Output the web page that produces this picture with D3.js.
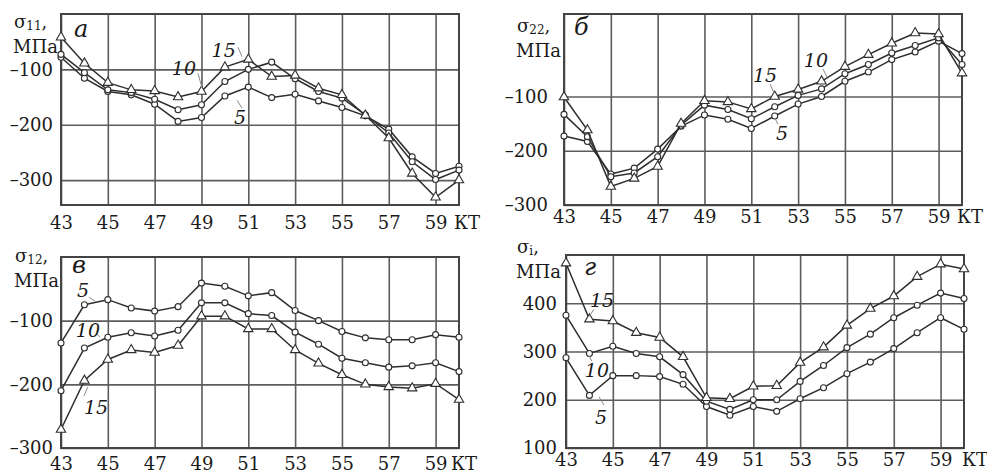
<!DOCTYPE html>
<html>
<head>
<meta charset="utf-8">
<script src="https://cdn.jsdelivr.net/npm/d3@7/dist/d3.min.js"></script>
<style>
  body { margin: 0; background: #fff; }
  svg { display: block; }
  text { font-family: "DejaVu Serif", serif; fill: #1a1a1a; }
</style>
</head>
<body>
<svg id="chart" width="987" height="474"></svg>
<script>
// Control points (КТ) along the part
const kt = [43, 44, 45, 46, 47, 48, 49, 50, 51, 52, 53, 54, 55, 56, 57, 58, 59, 60];
const ktTicks = [43, 45, 47, 49, 51, 53, 55, 57, 59];

// σ11, МПа
const s11_5  = [-78, -116, -140, -146, -163, -194, -187, -148, -132, -151, -145, -157, -169, -184, -208, -258, -288, -275];
const s11_10 = [-73, -106, -137, -142, -154, -173, -164, -122, -100, -87, -117, -140, -152, -182, -215, -267, -299, -282];
const s11_15 = [-42, -89, -124, -137, -139, -150, -140, -96, -82, -113, -111, -134, -146, -183, -224, -288, -331, -300];

// σ22, МПа
const s22_5  = [-173, -183, -243, -232, -197, -155, -134, -142, -159, -136, -114, -100, -72, -55, -32, -18, 2, -21];
const s22_10 = [-133, -174, -248, -241, -211, -153, -116, -124, -141, -119, -98, -86, -58, -41, -20, -6, 8, -41];
const s22_15 = [-101, -162, -266, -251, -229, -150, -108, -110, -123, -100, -87, -72, -45, -23, -2, 17, 15, -57];

// σ12, МПа
const s12_5  = [-135, -75, -67, -80, -85, -78, -41, -46, -61, -56, -84, -100, -117, -127, -130, -130, -122, -126];
const s12_10 = [-210, -143, -126, -119, -124, -115, -72, -72, -89, -92, -118, -137, -159, -166, -173, -171, -166, -180];
const s12_15 = [-271, -194, -161, -146, -150, -139, -93, -93, -113, -113, -146, -167, -185, -200, -204, -206, -199, -224];

// σi, МПа
const si_5  = [287, 209, 250, 250, 248, 232, 186, 168, 186, 176, 202, 225, 254, 278, 306, 339, 370, 346];
const si_10 = [375, 296, 311, 296, 289, 252, 197, 180, 200, 200, 238, 271, 308, 336, 370, 396, 421, 410];
const si_15 = [483, 367, 363, 339, 329, 289, 204, 202, 228, 229, 277, 309, 354, 389, 415, 455, 481, 471];

const seriesNames = ["5", "10", "15"];

// Panel layout and annotation placement (annotations in data units)
const panels = [
  {
    letter: "а", sub: "11", values: [s11_5, s11_10, s11_15],
    box: { left: 61, right: 459, top: 14, bottom: 205 }, domain: [-345, 0],
    yTicks: [-100, -200, -300], yPad: 8, xPad: 11,
    title: { x: 14, y: 28 }, letterPos: { x: 74, y: 37 }, ktX: 467,
    labels: [
      { t: "15", k: 49.95, v: -65, lead: [[50.56, -60], [50.73, -77]] },
      { t: "10", k: 48.25, v: -97, lead: [[48.85, -107], [49.02, -133]] },
      { t: "5",  k: 50.65, v: -186, lead: [[50.73, -170], [50.52, -156]] }
    ]
  },
  {
    letter: "б", sub: "22", values: [s22_5, s22_10, s22_15],
    box: { left: 564, right: 962, top: 14, bottom: 205 }, domain: [-300, 52],
    yTicks: [-100, -200, -300], yPad: 16, xPad: 5,
    title: { x: 517, y: 32 }, letterPos: { x: 574, y: 35 }, ktX: 970,
    labels: [
      { t: "15", k: 51.59, v: -60, lead: [[51.80, -77], [51.97, -94]] },
      { t: "10", k: 53.76, v: -33, lead: [[54.06, -49], [54.23, -64]] },
      { t: "5",  k: 52.31, v: -167, lead: [[52.14, -151], [52.01, -140]] }
    ]
  },
  {
    letter: "в", sub: "12", values: [s12_5, s12_10, s12_15],
    box: { left: 61, right: 459, top: 257, bottom: 448 }, domain: [-300, 0],
    yTicks: [-100, -200, -300], yPad: 8, xPad: 9,
    title: { x: 15, y: 262 }, letterPos: { x: 72, y: 273 }, ktX: 464,
    labels: [
      { t: "5",  k: 43.94, v: -52, lead: [[44.2, -63], [44.5, -71]] },
      { t: "10", k: 44.15, v: -115, lead: [[44.5, -120], [44.67, -126]] },
      { t: "15", k: 44.5, v: -236, lead: [[43.98, -218], [44.15, -204]] }
    ]
  },
  {
    letter: "г", sub: "i", values: [si_5, si_10, si_15],
    box: { left: 566, right: 964, top: 255, bottom: 448 }, domain: [100, 500],
    yTicks: [100, 200, 300, 400], yPad: 9, xPad: 5,
    title: { x: 517, y: 253 }, letterPos: { x: 584, y: 275 }, ktX: 975,
    labels: [
      { t: "15", k: 44.54, v: 407, lead: [[44.2, 388], [43.98, 372]] },
      { t: "10", k: 44.32, v: 262, lead: [[44.1, 280], [44.0, 290]] },
      { t: "5",  k: 44.5, v: 164, lead: [[44.62, 189], [44.41, 206]] }
    ]
  }
];

const svg = d3.select("#chart");
const fmt = d => (d < 0 ? "\u2013" + Math.abs(d) : String(d));
const ink = "#2e2e2e";
const grid = "#5c5c5c";

panels.forEach(p => {
  const b = p.box;
  const x = d3.scaleLinear().domain([43, 60]).range([b.left, b.right]);
  const y = d3.scaleLinear().domain(p.domain).range([b.bottom, b.top]);
  const g = svg.append("g");

  // vertical grid + КТ tick labels
  const xa = g.append("g")
    .attr("transform", `translate(0,${b.bottom})`)
    .call(d3.axisBottom(x).tickValues(ktTicks).tickSize(-(b.bottom - b.top))
      .tickPadding(p.xPad).tickFormat(d3.format("d")));
  xa.select(".domain").remove();
  xa.selectAll("line").attr("stroke", grid).attr("stroke-width", 1.6);
  xa.selectAll("text").style("font-family", "DejaVu Serif").style("font-size", "18px").attr("fill", "#1a1a1a");

  // horizontal grid + stress tick labels
  const ya = g.append("g")
    .attr("transform", `translate(${b.left},0)`)
    .call(d3.axisLeft(y).tickValues(p.yTicks).tickSize(-(b.right - b.left))
      .tickPadding(p.yPad).tickFormat(fmt));
  ya.select(".domain").remove();
  ya.selectAll("line").attr("stroke", grid).attr("stroke-width", 1.6);
  ya.selectAll("text").style("font-family", "DejaVu Serif").style("font-size", "18px").attr("fill", "#1a1a1a");

  // frame
  g.append("rect")
    .attr("x", b.left).attr("y", b.top)
    .attr("width", b.right - b.left).attr("height", b.bottom - b.top)
    .attr("fill", "none").attr("stroke", "#444").attr("stroke-width", 2);

  // "КТ" axis name
  g.append("text").attr("x", p.ktX).attr("y", b.bottom + p.xPad + 13)
    .attr("text-anchor", "middle").style("font-size", "18px").text("КТ");

  // axis title σ.., МПа
  const tt = g.append("text").attr("x", p.title.x).attr("y", p.title.y).style("font-size", "18px");
  tt.append("tspan").text("σ");
  tt.append("tspan").attr("dy", 2).style("font-size", "12px").text(p.sub);
  tt.append("tspan").attr("dy", -2).text(",");
  g.append("text").attr("x", p.title.x - 1).attr("y", p.title.y + 25)
    .style("font-size", "18px").text("МПа");

  // panel letter
  g.append("text").attr("x", p.letterPos.x).attr("y", p.letterPos.y)
    .style("font-size", "24px").style("font-style", "italic").text(p.letter);

  // curves
  const line = d3.line().x((d, i) => x(kt[i])).y(d => y(d));
  p.values.forEach((vals, si) => {
    g.append("path").datum(vals).attr("d", line)
      .attr("fill", "none").attr("stroke", ink).attr("stroke-width", 1.5);
    const pts = g.append("g");
    if (seriesNames[si] === "15") {
      pts.selectAll("path").data(vals).join("path")
        .attr("d", d3.symbol(d3.symbolTriangle, 38))
        .attr("transform", (d, i) => `translate(${x(kt[i])},${y(d)})`)
        .attr("fill", "#fff").attr("stroke", ink).attr("stroke-width", 1.1);
    } else {
      pts.selectAll("circle").data(vals).join("circle")
        .attr("cx", (d, i) => x(kt[i])).attr("cy", d => y(d)).attr("r", 3)
        .attr("fill", "#fff").attr("stroke", ink).attr("stroke-width", 1.1);
    }
  });

  // curve labels with leader strokes
  p.labels.forEach(l => {
    g.append("line")
      .attr("x1", x(l.lead[0][0])).attr("y1", y(l.lead[0][1]))
      .attr("x2", x(l.lead[1][0])).attr("y2", y(l.lead[1][1]))
      .attr("stroke", "#8a8a8a").attr("stroke-width", 1);
    g.append("text").attr("x", x(l.k)).attr("y", y(l.v))
      .attr("text-anchor", "middle").attr("dominant-baseline", "central")
      .style("font-size", "19px").style("font-style", "italic").text(l.t);
  });
});
</script>
</body>
</html>
